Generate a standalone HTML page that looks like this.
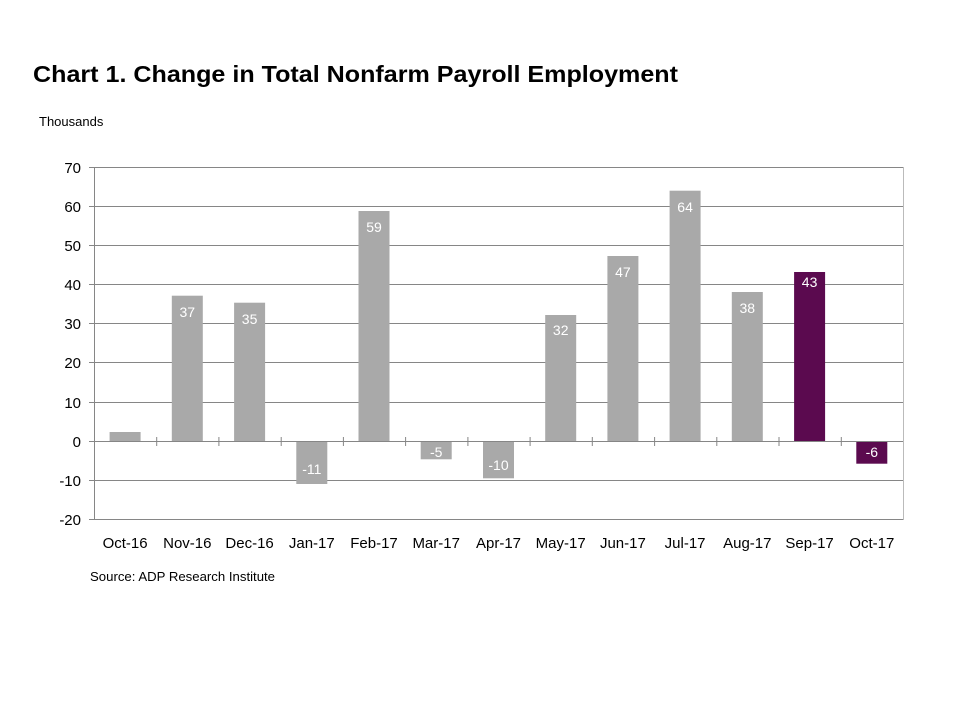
<!DOCTYPE html>
<html><head><meta charset="utf-8"><style>body{margin:0;background:#fff}svg{display:block}</style></head><body>
<svg width="960" height="720" xmlns="http://www.w3.org/2000/svg" font-family="Liberation Sans, Arial, sans-serif">
<rect width="960" height="720" fill="#fff"/>
<text x="33" y="82" font-size="23" font-weight="bold" textLength="645" lengthAdjust="spacingAndGlyphs">Chart 1. Change in Total Nonfarm Payroll Employment</text>
<text x="39" y="126" font-size="13">Thousands</text>
<g stroke="#868686" stroke-width="1">
<line x1="94" y1="167.5" x2="903" y2="167.5"/>
<line x1="94" y1="206.5" x2="903" y2="206.5"/>
<line x1="94" y1="245.5" x2="903" y2="245.5"/>
<line x1="94" y1="284.5" x2="903" y2="284.5"/>
<line x1="94" y1="323.5" x2="903" y2="323.5"/>
<line x1="94" y1="362.5" x2="903" y2="362.5"/>
<line x1="94" y1="402.5" x2="903" y2="402.5"/>
<line x1="94" y1="480.5" x2="903" y2="480.5"/>
<line x1="94" y1="519.5" x2="903" y2="519.5"/>
<line x1="94.5" y1="167" x2="94.5" y2="520"/>
<line x1="903.5" y1="167" x2="903.5" y2="520" stroke="#bbb"/>
</g>
<g stroke="#868686"><line x1="89" y1="167.5" x2="94" y2="167.5"/><line x1="89" y1="206.5" x2="94" y2="206.5"/><line x1="89" y1="245.5" x2="94" y2="245.5"/><line x1="89" y1="284.5" x2="94" y2="284.5"/><line x1="89" y1="323.5" x2="94" y2="323.5"/><line x1="89" y1="362.5" x2="94" y2="362.5"/><line x1="89" y1="402.5" x2="94" y2="402.5"/><line x1="89" y1="441.5" x2="94" y2="441.5"/><line x1="89" y1="480.5" x2="94" y2="480.5"/><line x1="89" y1="519.5" x2="94" y2="519.5"/></g>
<g font-size="15" fill="#000" text-anchor="end">
<text x="81" y="173">70</text><text x="81" y="212">60</text><text x="81" y="251">50</text><text x="81" y="290">40</text><text x="81" y="329">30</text><text x="81" y="368">20</text><text x="81" y="408">10</text><text x="81" y="447">0</text><text x="81" y="486">-10</text><text x="81" y="525">-20</text>
</g>
<g fill="#a9a9a9">
<rect x="109.6" y="432" width="31" height="9"/>
<rect x="171.8" y="295.7" width="31" height="145.3"/>
<rect x="234.1" y="302.7" width="31" height="138.3"/>
<rect x="296.3" y="441" width="31" height="43"/>
<rect x="358.5" y="211" width="31" height="230"/>
<rect x="420.7" y="441" width="31" height="18.3"/>
<rect x="483.0" y="441" width="31" height="37.3"/>
<rect x="545.2" y="315" width="31" height="126"/>
<rect x="607.4" y="256" width="31" height="185"/>
<rect x="669.6" y="190.7" width="31" height="250.3"/>
<rect x="731.8" y="292" width="31" height="149"/>
</g>
<g fill="#5b0a4f">
<rect x="794.1" y="272" width="31" height="169"/>
<rect x="856.3" y="441" width="31" height="22.7"/>
</g>
<g stroke="#868686"><line x1="94" y1="441.5" x2="903" y2="441.5"/>
<line x1="156.7" y1="437" x2="156.7" y2="446"/><line x1="218.9" y1="437" x2="218.9" y2="446"/><line x1="281.2" y1="437" x2="281.2" y2="446"/><line x1="343.4" y1="437" x2="343.4" y2="446"/><line x1="405.6" y1="437" x2="405.6" y2="446"/><line x1="467.9" y1="437" x2="467.9" y2="446"/><line x1="530.1" y1="437" x2="530.1" y2="446"/><line x1="592.3" y1="437" x2="592.3" y2="446"/><line x1="654.6" y1="437" x2="654.6" y2="446"/><line x1="716.8" y1="437" x2="716.8" y2="446"/><line x1="779" y1="437" x2="779" y2="446"/><line x1="841.3" y1="437" x2="841.3" y2="446"/></g>
<g font-size="14" fill="#fff" text-anchor="middle">
<text x="187.3" y="317">37</text><text x="249.6" y="324">35</text><text x="311.8" y="474">-11</text><text x="374" y="232">59</text><text x="436.2" y="457">-5</text><text x="498.5" y="470">-10</text><text x="560.7" y="335">32</text><text x="622.9" y="277">47</text><text x="685.1" y="212">64</text><text x="747.3" y="313">38</text><text x="809.6" y="287">43</text><text x="871.8" y="457">-6</text>
</g>
<g font-size="15" fill="#000" text-anchor="middle">
<text x="125.1" y="548">Oct-16</text><text x="187.3" y="548">Nov-16</text><text x="249.6" y="548">Dec-16</text><text x="311.8" y="548">Jan-17</text><text x="374" y="548">Feb-17</text><text x="436.2" y="548">Mar-17</text><text x="498.5" y="548">Apr-17</text><text x="560.7" y="548">May-17</text><text x="622.9" y="548">Jun-17</text><text x="685.1" y="548">Jul-17</text><text x="747.3" y="548">Aug-17</text><text x="809.6" y="548">Sep-17</text><text x="871.8" y="548">Oct-17</text>
</g>
<text x="90" y="581" font-size="13" textLength="185" lengthAdjust="spacingAndGlyphs">Source: ADP Research Institute</text>
</svg>
</body></html>
